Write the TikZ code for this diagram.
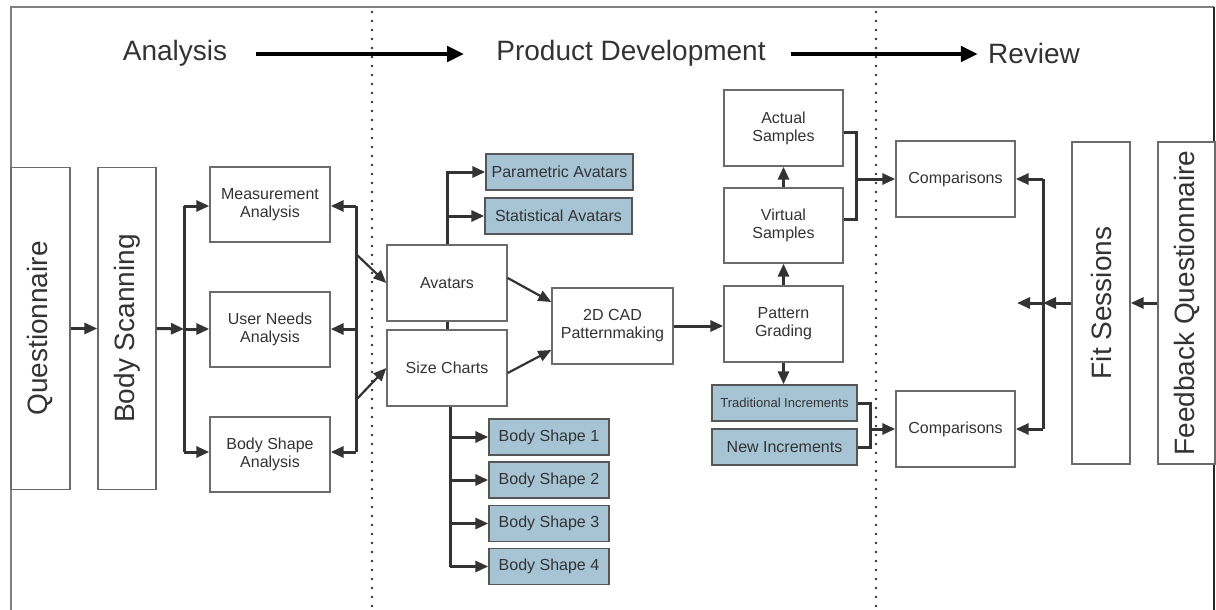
\documentclass[tikz,border=0pt]{standalone}
\usepackage{fontspec}
\setmainfont{Liberation Sans}
\usetikzlibrary{arrows.meta,calc}
\definecolor{edge}{HTML}{6B6B6B}
\definecolor{ink}{HTML}{333333}
\definecolor{steel}{HTML}{A6C4D4}
\begin{document}
\begin{tikzpicture}[x=1pt,y=-1pt,
  box/.style={draw=edge,line width=1.4pt,fill=white,text=ink,align=center,inner sep=0pt,
    font=\fontsize{16}{18}\selectfont},
  std/.style={box,minimum width=120pt,minimum height=76pt},
  tall/.style={box,rotate=90,font=\fontsize{28}{30}\selectfont,minimum height=58pt,minimum width=322pt},
  tint/.style={box,fill=steel,draw=edge!80!black,minimum height=36pt},
  link/.style={draw=ink,line width=3pt},
  arr/.style={link,-{Triangle[length=13pt,width=11pt]}},
  thinarr/.style={arr,line width=2.2pt},
  phase/.style={text=ink,font=\fontsize{28}{30}\selectfont,inner sep=0pt},
  flow/.style={draw=black,line width=4.5pt,-{Triangle[length=17pt,width=15pt]}},
  divider/.style={draw=ink,line width=2.6pt,line cap=round,dash pattern=on 0pt off 9pt}]

\useasboundingbox (0,0) rectangle (1216,610);

% outer frame (open at the bottom)
\draw[draw=gray,line width=2pt] (10.5,610) -- (10.5,7) -- (1214,7);
\draw[draw=black!85,line width=2pt] (1214,7) -- (1214,610);

% phase dividers
\draw[divider] (372,12) -- (372,610);
\draw[divider] (876,12) -- (876,610);

% phase headings
\node[phase] (ana) at (175,53) {Analysis};
\node[phase] (prod) at (631,53) {Product Development};
\node[phase] (rev) at (1034,53) {Review};
\draw[flow] ([xshift=29pt,yshift=-1pt]ana.east) -- ([xshift=-32pt,yshift=-1pt]prod.west);
\draw[flow] ([xshift=25pt,yshift=-1pt]prod.east) -- ([xshift=-10pt,yshift=-1pt]rev.west);

% analysis column
\node[tall,minimum height=59pt] (quest) at (40.5,328.5) {Questionnaire};
\node[tall] (scan) at (127,328.5) {Body Scanning};
\node[std,minimum height=75pt] (meas)  at (270,204.5) {Measurement\\Analysis};
\node[std,minimum height=75pt] (needs) at (270,329.5) {User Needs\\Analysis};
\node[std,minimum height=75pt] (shape) at (270,454.5) {Body Shape\\Analysis};

% product development column
\node[std] (avatars) at (447,283) {Avatars};
\node[std] (sizech)  at (447,368) {Size Charts};
\node[tint,minimum width=147pt] (param) at (559.5,172) {Parametric Avatars};
\node[tint,minimum width=147pt] (stat)  at (558.5,216) {Statistical Avatars};
\node[std,minimum width=121pt] (cad) at (612.5,326) {2D CAD\\Patternmaking};
\node[tint,minimum width=120pt] (bs1) at (549,437) {Body Shape 1};
\node[tint,minimum width=120pt] (bs2) at (549,480) {Body Shape 2};
\node[tint,minimum width=120pt] (bs3) at (549,523.5) {Body Shape 3};
\node[tint,minimum width=120pt] (bs4) at (549,566.5) {Body Shape 4};
\node[std,minimum width=119pt] (actual)  at (783.5,128) {Actual\\Samples};
\node[std,minimum width=119pt,minimum height=75pt] (virtual) at (783.5,225.5) {Virtual\\Samples};
\node[std,minimum width=119pt] (grading) at (783.5,324) {Pattern\\Grading};
\node[tint,minimum width=145pt,font=\fontsize{13}{15}\selectfont] (trad) at (784.5,403) {Traditional Increments};
\node[tint,minimum width=145pt] (newinc) at (784.5,447) {New Increments};

% review column
\node[std,minimum width=119pt] (comp1) at (955.5,179) {Comparisons};
\node[std,minimum width=119pt] (comp2) at (955.5,429) {Comparisons};
\node[tall] (fit) at (1101,303) {Fit Sessions};
\node[tall,minimum height=57pt] (feedback) at (1186.5,303) {Feedback Questionnaire};

% analysis connectors
\draw[arr] (quest.south) -- (quest.south -| scan.north);
\coordinate (lb1) at (184,206);
\coordinate (lbm) at (184,329);
\coordinate (lb3) at (184,452);
\draw[arr] (scan.south) -- (lbm);
\draw[link] (lb1) -- (lb3);
\draw[arr] (lb1) -- (lb1 -| meas.west);
\draw[arr] (lbm) -- (lbm -| needs.west);
\draw[arr] (lb3) -- (lb3 -| shape.west);

\coordinate (rb1) at (356,206);
\coordinate (rbm) at (356,329);
\coordinate (rb3) at (356,452);
\coordinate (rbA) at (356,254);
\coordinate (rbS) at (356,400);
\draw[link] (rb1) -- (rb3);
\draw[arr] (rb1) -- (rb1 -| meas.east);
\draw[arr] (rbm) -- (rbm -| needs.east);
\draw[arr] (rb3) -- (rb3 -| shape.east);
\draw[thinarr] (rbA) -- (avatars.west);
\draw[thinarr] (rbS) -- (sizech.west);

% product development connectors
\draw[arr] (avatars.north) |- (param.west);
\draw[arr] (avatars.north |- stat.west) -- (stat.west);
\draw[link] (avatars.south) -- (sizech.north);
\draw[thinarr] ($(avatars.east)+(0,-5)$) -- ($(cad.west)+(0,-24)$);
\draw[thinarr] ($(sizech.east)+(0,5)$) -- ($(cad.west)+(0,24)$);
\coordinate (sc) at ($(sizech.south)+(3,0)$);
\draw[link] (sc) -- (sc |- bs4.west);
\draw[arr] (sc |- bs1.west) -- (bs1.west);
\draw[arr] (sc |- bs2.west) -- (bs2.west);
\draw[arr] (sc |- bs3.west) -- (bs3.west);
\draw[arr] (sc |- bs4.west) -- (bs4.west);
\draw[arr] (cad.east) -- (cad.east -| grading.west);
\draw[arr] (grading.north) -- (virtual.south);
\draw[arr] (virtual.north) -- (actual.south);
\draw[arr] (grading.south) -- (grading.south |- trad.north);

% samples and increments feed the comparisons
\coordinate (sj) at (856,179);
\draw[link] ($(actual.east)+(0,4)$) -| (sj) |- ($(virtual.east)+(0,-6)$);
\draw[arr] (sj) -- (sj -| comp1.west);
\coordinate (ij) at (870,429);
\draw[link] (trad.east) -| (ij) |- (newinc.east);
\draw[arr] (ij) -- (ij -| comp2.west);

% review connectors
\draw[arr] (feedback.north) -- (feedback.north -| fit.south);
\coordinate (fb) at (1043,303);
\coordinate (fb1) at (1043,179);
\coordinate (fb2) at (1043,429);
\coordinate (fbend) at (1017,303);
\draw[arr] (fit.north) -- (fb);
\draw[link] (fb1) -- (fb2);
\draw[arr] (fb1) -- (fb1 -| comp1.east);
\draw[arr] (fb2) -- (fb2 -| comp2.east);
\draw[arr] (fb) -- (fbend);
\end{tikzpicture}
\end{document}
